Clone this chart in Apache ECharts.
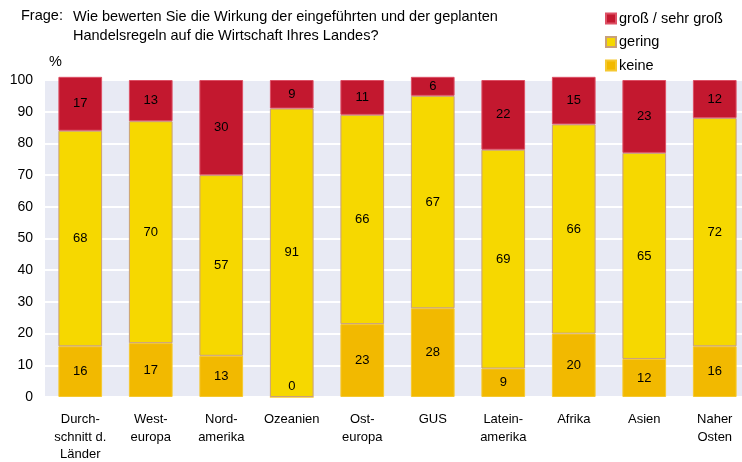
<!DOCTYPE html>
<html>
<head>
<meta charset="utf-8">
<script src="https://cdn.jsdelivr.net/npm/echarts@6/dist/echarts.min.js"></script>
<style>
  html, body { margin: 0; padding: 0; background: #fff; }
  #chart { width: 742px; height: 462px; }
</style>
</head>
<body>
<div id="chart"></div>
<script>
const categories = [
  "Durch-\nschnitt d.\nLänder", "West-\neuropa", "Nord-\namerika", "Ozeanien", "Ost-\neuropa",
  "GUS", "Latein-\namerika", "Afrika", "Asien", "Naher\nOsten"
];
const keine = [16, 17, 13, 0, 23, 28, 9, 20, 12, 16];
const gering = [68, 70, 57, 91, 66, 67, 69, 66, 65, 72];
const gross = [17, 13, 30, 9, 11, 6, 22, 15, 23, 12];
const yTicks = [0, 10, 20, 30, 40, 50, 60, 70, 80, 90, 100];

const font = "Liberation Sans, Arial, sans-serif";
const chart = echarts.init(document.getElementById("chart"), null, { renderer: "canvas" });

function mkSeries(name, values, color, border) {
  return {
    name: name,
    type: "bar",
    stack: "total",
    barWidth: "62%",
    clip: false,
    itemStyle: { color: color, borderColor: border, borderWidth: 1 },
    label: {
      show: true,
      position: "inside",
      color: "#000",
      fontFamily: font,
      fontSize: 13
    },
    // a zero bar still gets its label, lifted a bit off the baseline
    data: values.map(v => v === 0
      ? { value: v, label: { position: "insideBottom", distance: 5 } }
      : v)
  };
}

chart.setOption({
  animation: false,
  textStyle: { fontFamily: font },
  graphic: [
    { type: "text", left: 21, top: 8, style: { text: "Frage:", font: "14.5px " + font, fill: "#000" } },
    { type: "text", left: 73, top: 8, style: {
        text: "Wie bewerten Sie die Wirkung der eingeführten und der geplanten\nHandelsregeln auf die Wirtschaft Ihres Landes?",
        font: "14.5px " + font, lineHeight: 18.5, fill: "#000" } },
    { type: "text", left: 49, top: 54, style: { text: "%", font: "14.5px " + font, fill: "#000" } }
  ],
  legend: {
    orient: "vertical",
    left: 605,
    top: 11,
    padding: 0,
    itemWidth: 10,
    itemHeight: 10,
    itemGap: 8.5,
    icon: "rect",
    textStyle: { fontFamily: font, fontSize: 14.5, color: "#000", padding: [0, 0, 0, -2] },
    data: ["groß / sehr groß", "gering", "keine"]
  },
  grid: {
    left: 45, width: 705, top: 80, bottom: 65,
    outerBoundsMode: "none",
    show: true, backgroundColor: "#e8eaf4", borderWidth: 0
  },
  xAxis: {
    type: "category",
    data: categories,
    axisLine: { show: false },
    axisTick: { show: false },
    axisLabel: { color: "#000", fontSize: 13, lineHeight: 17.5, margin: 14, interval: 0 }
  },
  yAxis: {
    type: "value",
    min: yTicks[0],
    max: yTicks[yTicks.length - 1],
    interval: 10,
    axisLine: { show: false },
    axisTick: { show: false },
    axisLabel: { color: "#000", fontSize: 14, margin: 12 },
    splitLine: { lineStyle: { color: "#fff", width: 2 } }
  },
  series: [
    mkSeries("keine", keine, "#f2b900", "#f5c830"),
    mkSeries("gering", gering, "#f6d800", "#c9a07a"),
    mkSeries("groß / sehr groß", gross, "#c3182f", "#dd5065")
  ]
});
</script>
</body>
</html>
